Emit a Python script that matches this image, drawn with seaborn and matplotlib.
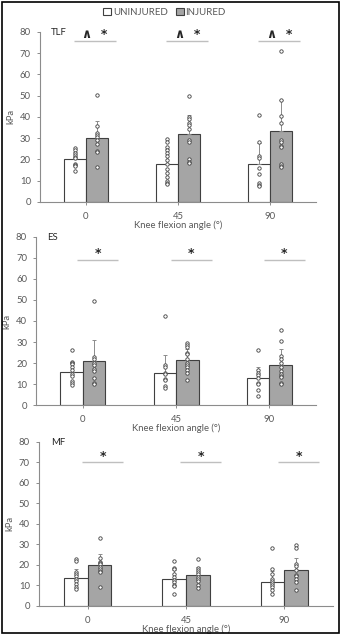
import matplotlib
matplotlib.use("Agg")
import matplotlib.pyplot as plt
import seaborn as sns
import pandas as pd
from matplotlib.patches import Patch, Rectangle

# categories
angles = ["0", "45", "90"]
groups = ["UNINJURED", "INJURED"]

# TLF panel
tlf_mean_uninj = [20.2, 18.0, 17.7]
tlf_mean_inj = [30.0, 31.7, 33.2]
tlf_sd_uninj = [3.3, 6.8, 9.8]
tlf_sd_inj = [8.0, 9.4, 14.8]
tlf_pts_uninj = [[25.5, 24.5, 23, 22, 21, 20.5, 18, 17.5, 17, 14.5],
                 [29.5, 28, 26, 24.5, 23, 21.5, 19.5, 18, 15.5, 13.5, 11.5, 10, 9, 8.5],
                 [41, 28, 21.5, 20.5, 16, 13, 9, 8, 7.5]]
tlf_pts_inj = [[50.5, 35.5, 32.5, 31.5, 30.5, 29, 27, 24, 23.5, 16.5],
               [50, 40, 39, 37, 36, 34.5, 29, 28, 20, 19, 18.5],
               [71, 48, 40.5, 37, 29, 28, 26.5, 26, 18, 17, 16.5]]

# ES panel
es_mean_uninj = [15.8, 15.5, 13.0]
es_mean_inj = [21.0, 21.5, 19.2]
es_sd_uninj = [4.5, 8.5, 5.0]
es_sd_inj = [9.8, 5.0, 7.6]
es_pts_uninj = [[26, 20.5, 20, 19.5, 18, 16.5, 15, 14, 11.5, 10.5, 9.5],
                [42.5, 19, 18, 15.5, 15, 12.5, 12, 9, 8],
                [26, 16.5, 15.5, 14.5, 13, 10.5, 10, 7, 4.5]]
es_pts_inj = [[49.5, 23, 22, 20, 19, 17, 16, 13, 10.5, 10],
              [29.5, 28.5, 27.5, 25, 24.5, 22, 20, 19, 18, 16.5, 15.5, 12],
              [35.5, 30.5, 23.5, 22, 20, 18, 16, 15, 14, 13.5, 10.5, 10]]

# MF panel
mf_mean_uninj = [13.8, 13.0, 11.7]
mf_mean_inj = [19.7, 15.0, 17.3]
mf_sd_uninj = [4.0, 4.3, 5.5]
mf_sd_inj = [5.8, 3.8, 6.2]
mf_pts_uninj = [[23, 22, 16.5, 15.5, 14.5, 13, 12, 10.5, 9, 8],
                [22, 18.5, 18, 15.5, 14, 12.5, 11.5, 10, 9.5, 6],
                [28, 18, 15.5, 13, 12, 11, 10, 9, 7.5, 6]]
mf_pts_inj = [[33, 23.5, 21.5, 21, 20.5, 19, 18, 17, 16.5, 9],
              [23, 18.5, 17.5, 16.5, 15.5, 14, 13, 12, 10, 8.5],
              [29.5, 28, 20.5, 19.5, 17.5, 15, 14.5, 13, 11.5, 7.5]]

sns.set_theme(style="ticks")
plt.rcParams["font.family"] = ["Lato", "DejaVu Sans"]

gray_txt = "#595959"
bar_colors = ["white", "#a5a5a5"]
edge = "#404040"

fig = plt.figure(figsize=(3.41, 6.35), dpi=100)


def draw_panel(rect, name, mean_u, mean_i, sd_u, sd_i, pts_u, pts_i,
               sig_text, text_y, line_y, line_span):
    ax = fig.add_axes(rect)
    means = pd.DataFrame({
        "angle": angles * 2,
        "group": [groups[0]] * 3 + [groups[1]] * 3,
        "kPa": mean_u + mean_i,
    })
    sns.barplot(data=means, x="angle", y="kPa", hue="group", order=angles,
                hue_order=groups, palette=bar_colors, width=0.48,
                errorbar=None, edgecolor=edge, linewidth=0.8, legend=False,
                ax=ax)

    bars = sorted(ax.patches, key=lambda p: p.get_x())
    sds = [v for pair in zip(sd_u, sd_i) for v in pair]
    pts = [v for pair in zip(pts_u, pts_i) for v in pair]
    for bar, sd, vals in zip(bars, sds, pts):
        xc = bar.get_x() + bar.get_width() / 2
        h = bar.get_height()
        ax.errorbar([xc], [h], yerr=[[0], [sd]], fmt="none", ecolor="#8c8c8c",
                    elinewidth=0.7, capsize=1.5, capthick=0.7, zorder=3)
        ax.scatter([xc] * len(vals), vals, s=6, facecolors="white",
                   edgecolors="#404040", linewidths=0.6, zorder=4)

    # significance lines and marks
    for i in range(len(angles)):
        ax.plot([i + line_span[0], i + line_span[1]], [line_y, line_y],
                color="#bfbfbf", lw=1.0, solid_capstyle="butt")
        ax.text(i + (line_span[0] + line_span[1]) / 2, text_y, sig_text,
                ha="center", va="center", fontsize=9, fontweight="bold",
                color="#262626", family="DejaVu Sans")

    ax.text(-0.38, 79.5, name, ha="left", va="center", fontsize=6.8,
            color="#262626")

    ax.set_xlim(-0.5, 2.5)
    ax.set_ylim(0, 80)
    ax.set_yticks(range(0, 81, 10))
    ax.set_ylabel("kPa", fontsize=6.8, color=gray_txt, labelpad=3)
    ax.set_xlabel("Knee flexion angle (°)", fontsize=6.8, color=gray_txt,
                  labelpad=0)
    ax.tick_params(axis="both", labelsize=6.8, labelcolor=gray_txt,
                   color="#8c8c8c", width=0.7)
    ax.tick_params(axis="y", length=2.5, pad=4)
    ax.tick_params(axis="x", length=2, pad=5)
    for s in ["top", "right"]:
        ax.spines[s].set_visible(False)
    for s in ["left", "bottom"]:
        ax.spines[s].set_color("#8c8c8c")
        ax.spines[s].set_linewidth(0.8)
    return ax


draw_panel([0.117, 0.682, 0.81, 0.268], "TLF", tlf_mean_uninj, tlf_mean_inj,
           tlf_sd_uninj, tlf_sd_inj, tlf_pts_uninj, tlf_pts_inj,
           "\u2227  *", 78.5, 75.8, (-0.13, 0.33))
draw_panel([0.106, 0.362, 0.821, 0.265], "ES", es_mean_uninj, es_mean_inj,
           es_sd_uninj, es_sd_inj, es_pts_uninj, es_pts_inj,
           "*", 72.0, 69.0, (-0.06, 0.38))
draw_panel([0.114, 0.046, 0.863, 0.258], "MF", mf_mean_uninj, mf_mean_inj,
           mf_sd_uninj, mf_sd_inj, mf_pts_uninj, mf_pts_inj,
           "*", 72.8, 70.0, (-0.06, 0.36))

handles = [Patch(facecolor=c, edgecolor=edge, linewidth=0.8) for c in bar_colors]
fig.legend(handles=handles, labels=groups, loc="center",
           bbox_to_anchor=(0.483, 0.981), ncol=2, frameon=False,
           fontsize=7, handlelength=0.8, handleheight=0.8,
           handletextpad=0.2, columnspacing=0.8, labelcolor=gray_txt)

fig.patches.append(Rectangle((0.005, 0.003), 0.99, 0.994,
                             transform=fig.transFigure, fill=False,
                             lw=1.2, ec="black"))

plt.savefig("out.png", dpi=100)
